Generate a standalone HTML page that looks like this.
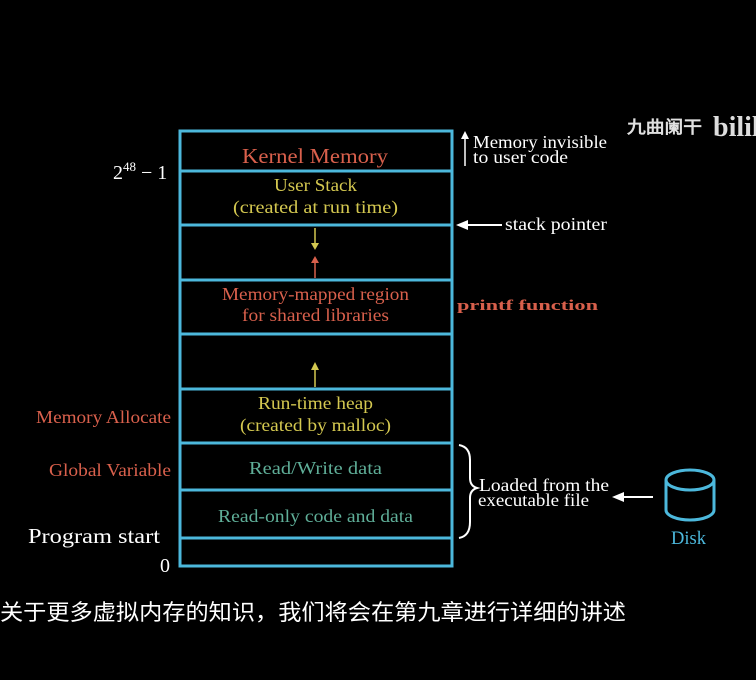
<!DOCTYPE html>
<html><head><meta charset="utf-8"><style>
html,body{margin:0;padding:0;background:#000;}
svg{display:block}
text{font-family:"Liberation Serif",serif;}
</style></head><body>
<svg width="756" height="680" viewBox="0 0 756 680" xmlns="http://www.w3.org/2000/svg">
<rect width="756" height="680" fill="#000"/>
<g stroke="#4cb8dc" stroke-width="3" fill="none">
<rect x="180" y="131" width="272" height="435"/>
<line x1="180" y1="171" x2="452" y2="171"/>
<line x1="180" y1="225" x2="452" y2="225"/>
<line x1="180" y1="280" x2="452" y2="280"/>
<line x1="180" y1="334" x2="452" y2="334"/>
<line x1="180" y1="389" x2="452" y2="389"/>
<line x1="180" y1="443" x2="452" y2="443"/>
<line x1="180" y1="490" x2="452" y2="490"/>
<line x1="180" y1="538" x2="452" y2="538"/>
<path d="M666 480 A24 10 0 0 1 714 480 A24 10 0 0 1 666 480 M666 480 L666 510 A24 10 0 0 0 714 510 L714 480"/>
</g>
<g font-size="18">
<text x="242" y="163" fill="#d9604c" font-size="21" textLength="146" lengthAdjust="spacingAndGlyphs">Kernel Memory</text>
<text x="274" y="191" fill="#d4c850" textLength="83" lengthAdjust="spacingAndGlyphs">User Stack</text>
<text x="233" y="213" fill="#d4c850" textLength="165" lengthAdjust="spacingAndGlyphs">(created at run time)</text>
<text x="222" y="300" fill="#d9604c" textLength="187" lengthAdjust="spacingAndGlyphs">Memory-mapped region</text>
<text x="242" y="321" fill="#d9604c" textLength="147" lengthAdjust="spacingAndGlyphs">for shared libraries</text>
<text x="258" y="409" fill="#d4c850" textLength="115" lengthAdjust="spacingAndGlyphs">Run-time heap</text>
<text x="240" y="431" fill="#d4c850" textLength="151" lengthAdjust="spacingAndGlyphs">(created by malloc)</text>
<text x="249" y="474" fill="#5fae98" textLength="133" lengthAdjust="spacingAndGlyphs">Read/Write data</text>
<text x="218" y="522" fill="#5fae98" textLength="195" lengthAdjust="spacingAndGlyphs">Read-only code and data</text>
<text x="671" y="544" fill="#4cb8dc" font-size="19" textLength="35" lengthAdjust="spacingAndGlyphs">Disk</text>
<text x="36" y="423" fill="#d9604c" textLength="135" lengthAdjust="spacingAndGlyphs">Memory Allocate</text>
<text x="49" y="476" fill="#d9604c" textLength="122" lengthAdjust="spacingAndGlyphs">Global Variable</text>
<text x="28" y="543" fill="#fff" font-size="21" textLength="132" lengthAdjust="spacingAndGlyphs">Program start</text>
<text x="160" y="572" fill="#fff" font-size="20">0</text>
<text x="473" y="148" fill="#fff" textLength="134" lengthAdjust="spacingAndGlyphs">Memory invisible</text>
<text x="473" y="163" fill="#fff" textLength="95" lengthAdjust="spacingAndGlyphs">to user code</text>
<text x="505" y="230" fill="#fff" textLength="102" lengthAdjust="spacingAndGlyphs">stack pointer</text>
<text x="457" y="310" fill="#d9604c" font-size="15" font-family="Liberation Mono,monospace" font-weight="bold" textLength="141" lengthAdjust="spacingAndGlyphs">printf function</text>
<text x="479" y="491" fill="#fff" textLength="130" lengthAdjust="spacingAndGlyphs">Loaded from the</text>
<text x="478" y="506" fill="#fff" textLength="111" lengthAdjust="spacingAndGlyphs">executable file</text>
</g>
<text x="113" y="179" fill="#fff" font-size="20">2<tspan dy="-8" font-size="13">48</tspan><tspan dy="8"> − 1</tspan></text>
<line x1="315" y1="228" x2="315" y2="244" stroke="#d4c850" stroke-width="1.5"/>
<path d="M311 243 L319 243 L315 250Z" fill="#d4c850"/>
<line x1="315" y1="262" x2="315" y2="278" stroke="#d9604c" stroke-width="1.5"/>
<path d="M311 263 L319 263 L315 256Z" fill="#d9604c"/>
<line x1="315" y1="370" x2="315" y2="387" stroke="#d4c850" stroke-width="1.5"/>
<path d="M311 370 L319 370 L315 362Z" fill="#d4c850"/>
<line x1="465" y1="166" x2="465" y2="138" stroke="#fff" stroke-width="1.5"/>
<path d="M461 139 L469 139 L465 131Z" fill="#fff"/>
<line x1="466" y1="225" x2="502" y2="225" stroke="#fff" stroke-width="2"/>
<path d="M456 225 L468 220 L468 230Z" fill="#fff"/>
<path d="M459 445 Q470 447 470 460 L470 478 Q470 486 477 488 Q470 490 470 498 L470 522 Q470 536 459 538" fill="none" stroke="#fff" stroke-width="2"/>
<line x1="622" y1="497" x2="653" y2="497" stroke="#fff" stroke-width="2"/>
<path d="M612 497 L624 492 L624 502Z" fill="#fff"/>
<text x="627" y="133" fill="#e0e0e0" font-size="17" font-weight="bold" font-family="'Noto Sans CJK SC',sans-serif" textLength="75" lengthAdjust="spacingAndGlyphs">九曲阑干</text>
<text x="713" y="136" fill="#ddd" font-size="28" font-weight="bold" font-family="'Liberation Sans',sans-serif">bilil</text>
<text x="0" y="620" fill="#fff" font-size="22" font-family="'Liberation Sans','Noto Sans CJK SC',sans-serif" textLength="626" lengthAdjust="spacingAndGlyphs">关于更多虚拟内存的知识，我们将会在第九章进行详细的讲述</text>
</svg>
</body></html>
